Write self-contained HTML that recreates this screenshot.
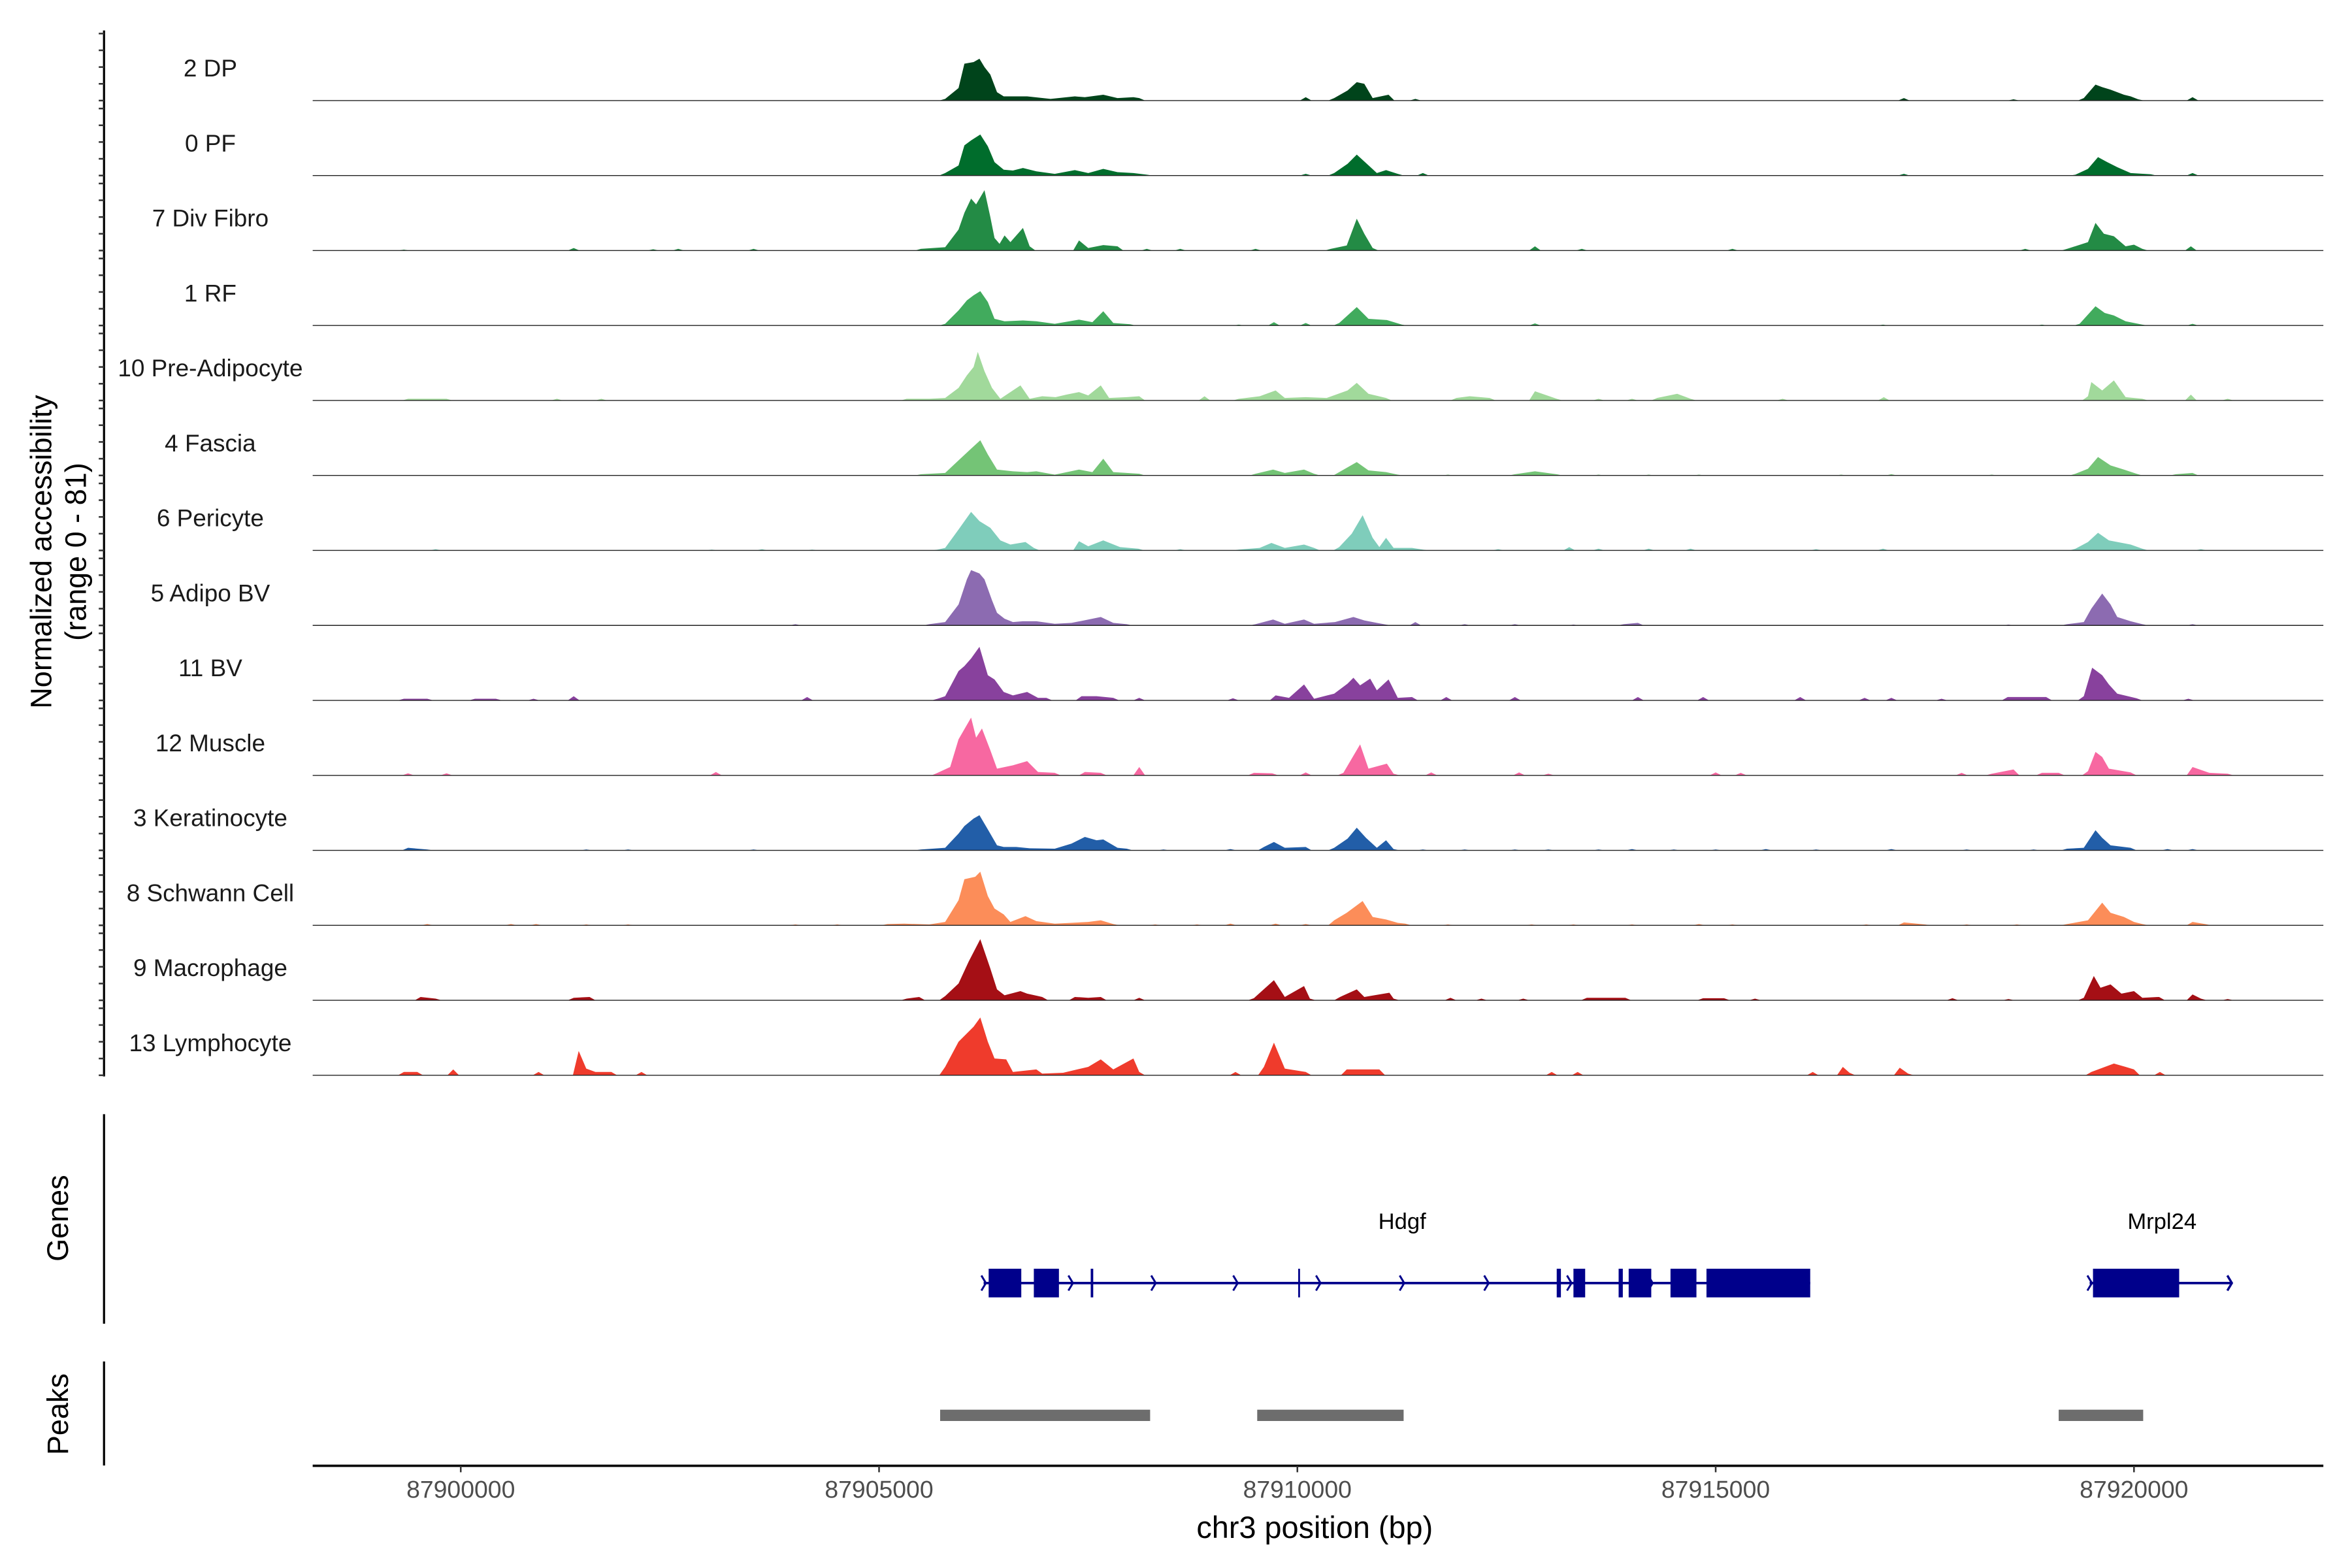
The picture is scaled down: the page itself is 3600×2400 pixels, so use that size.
<!DOCTYPE html>
<html><head><meta charset="utf-8">
<style>
html,body{margin:0;padding:0;background:#fff;}
svg{display:block;}
text{font-family:"Liberation Sans",Arial,sans-serif;}
</style></head>
<body>
<svg id="chart" xmlns="http://www.w3.org/2000/svg" width="3600" height="2400" viewBox="0 0 1560 1040">
<rect x="0" y="0" width="1560" height="1040" fill="#fff"/>
<g id="tracks"></g>
<g id="yaxis"></g>
<text transform="translate(34,366) rotate(-90)" text-anchor="middle" font-size="19.5" fill="#000">Normalized accessibility</text>
<text transform="translate(57,366) rotate(-90)" text-anchor="middle" font-size="19.5" fill="#000">(range 0 - 81)</text>
<g id="genes"></g>
<line x1="69" y1="739" x2="69" y2="878" stroke="#000" stroke-width="1.4"/>
<text transform="translate(45,808) rotate(-90)" text-anchor="middle" font-size="19.5" fill="#000">Genes</text>
<g id="peaks"></g>
<line x1="69" y1="903" x2="69" y2="972" stroke="#000" stroke-width="1.4"/>
<text transform="translate(45,938) rotate(-90)" text-anchor="middle" font-size="19.5" fill="#000">Peaks</text>
<g id="xaxis"></g>
<text x="872" y="1020" text-anchor="middle" font-size="20.3" fill="#000">chr3 position (bp)</text>
</svg>
<script>
// positions are kb offsets from 87,900,000 bp; values on the 0-81 normalized scale
const trackNames = ["2 DP","0 PF","7 Div Fibro","1 RF","10 Pre-Adipocyte","4 Fascia","6 Pericyte","5 Adipo BV","11 BV","12 Muscle","3 Keratinocyte","8 Schwann Cell","9 Macrophage","13 Lymphocyte"];
const trackColors = ["#00441b","#006d2c","#238b45","#41ab5d","#a1d99b","#74c476","#7fcdbb","#8c6bb1","#88419d","#f768a1","#225ea8","#fc8d59","#a50f15","#ef3b2c"];
const covDP2 = [[5.79,2],[5.95,15],[6.02,44],[6.13,46],[6.2,50],[6.26,40],[6.33,31],[6.41,10],[6.49,5],[6.6,5],[6.77,5],[7.05,2],[7.34,5],[7.46,4],[7.68,7],[7.85,3],[8.04,4],[8.11,3],[10.1,4],[10.44,3],[10.6,12],[10.71,22],[10.8,20],[10.9,3],[11.09,7],[11.41,2],[17.25,3],[18.56,1.5],[19.4,3],[19.54,19],[19.62,16],[19.72,13],[19.88,7],[19.96,5],[20.05,1.5],[20.7,4]];
const covPF0 = [[5.79,3],[5.95,12],[6.02,36],[6.1,42],[6.21,49],[6.3,35],[6.38,16],[6.49,7],[6.6,6],[6.72,9],[6.88,5],[7.1,2],[7.34,6.5],[7.5,3],[7.68,8],[7.85,4],[8.04,3],[8.2,1],[10.1,2],[10.44,3],[10.6,14],[10.71,25],[10.82,15],[10.95,3],[11.06,6.5],[11.2,2],[11.5,3],[17.25,2],[19.3,1],[19.45,8],[19.57,22],[19.68,16],[19.8,10],[19.96,3],[20.2,1.5],[20.7,3]];
const covFib7 = [[-0.68,1],[1.35,3],[2.3,1.5],[2.6,2],[3.5,2],[5.5,2],[5.79,4],[5.95,25],[6.02,45],[6.1,62],[6.16,55],[6.26,72],[6.33,40],[6.38,15],[6.44,8],[6.5,18],[6.57,10],[6.72,27],[6.8,5],[7.39,12],[7.5,3],[7.68,6.5],[7.85,5],[8.2,2],[8.6,2],[9.5,2],[10.4,2],[10.59,6],[10.71,38],[10.8,20],[10.9,3],[12.84,5],[13.4,2],[15.2,2],[18.7,2],[19.2,2],[19.45,10],[19.54,33],[19.64,20],[19.76,17],[19.9,5],[20.0,7],[20.1,2],[20.68,5]];
const covRF1 = [[5.79,2],[5.95,18],[6.05,30],[6.13,36],[6.21,41],[6.3,28],[6.38,8],[6.5,5],[6.72,6],[6.88,5],[7.1,2],[7.39,7],[7.55,4],[7.68,17],[7.8,3],[8.0,1.5],[9.3,1],[9.72,4],[10.1,3],[10.5,3],[10.71,22],[10.85,8],[11.07,6.5],[11.25,1],[12.84,2.5],[17.0,1],[18.9,1],[19.35,2],[19.54,23],[19.65,15],[19.76,12],[19.9,5],[20.1,1],[20.7,2]];
const covPre10 = [[-0.63,2],[-0.4,2],[-0.17,2],[1.15,2],[1.68,2],[5.33,2],[5.6,2],[5.79,3],[5.95,15],[6.05,30],[6.13,40],[6.18,58],[6.26,35],[6.35,15],[6.45,2],[6.69,18],[6.8,2],[6.95,5],[7.11,4],[7.24,7],[7.39,10],[7.5,6],[7.65,18],[7.75,3],[7.96,4],[8.11,5],[8.89,5],[9.3,2],[9.55,5],[9.74,12],[9.85,3],[10.1,4],[10.35,3],[10.6,12],[10.71,21],[10.85,8],[11.06,3],[11.9,3],[12.06,5],[12.3,3],[12.84,11],[13.1,2],[13.6,2],[14.0,2],[14.3,3],[14.54,8],[14.7,2],[15.8,2],[17.01,4],[19.45,5],[19.49,22],[19.62,12],[19.76,24],[19.9,4],[20.1,2],[20.68,7],[21.12,2]];
const covFascia4 = [[5.5,1.5],[5.79,3],[5.95,18],[6.1,32],[6.21,42],[6.3,25],[6.41,7],[6.6,5],[6.77,4],[6.88,5],[7.1,1],[7.39,7],[7.55,4],[7.68,20],[7.8,4],[7.96,3],[8.11,2],[9.5,2],[9.71,7],[9.85,3],[10.08,7],[10.2,2],[10.5,4],[10.71,16],[10.85,6],[11.06,4],[11.2,1],[11.8,1],[12.6,1.5],[12.84,5],[13.1,1.5],[13.6,1],[14.2,1],[14.8,1],[16.5,1],[17.1,1.5],[18.3,1],[19.3,2],[19.45,8],[19.57,22],[19.72,12],[19.88,7],[20.03,2],[20.5,1.5],[20.7,3]];
const covPeri6 = [[-0.3,1.5],[3.0,1],[3.6,1.5],[4.2,1],[5.7,1],[5.79,3],[5.95,25],[6.1,46],[6.2,35],[6.33,27],[6.45,12],[6.57,7],[6.75,10],[6.85,3],[7.39,11],[7.5,5],[7.68,12],[7.88,4],[8.1,2],[8.6,1.5],[9.3,1],[9.55,3],[9.69,9],[9.85,3],[10.08,7],[10.2,3],[10.5,4],[10.65,20],[10.78,42],[10.9,15],[10.98,4],[11.06,15],[11.15,3],[11.37,3],[11.5,1],[12.4,1.5],[13.25,4],[13.6,2],[14.2,2],[14.7,2],[16.2,1.5],[17.0,2],[19.3,2],[19.45,10],[19.57,21],[19.7,12],[19.96,7],[20.1,2],[20.8,1.5]];
const covAdipoBV5 = [[4.0,1.5],[5.6,1.5],[5.79,4],[5.95,25],[6.05,55],[6.1,66],[6.2,62],[6.26,55],[6.35,30],[6.41,15],[6.5,8],[6.6,4],[6.72,5],[6.88,5],[7.1,2],[7.3,3],[7.45,6],[7.65,10],[7.8,3],[7.96,1.5],[9.5,1.5],[9.71,7],[9.85,2],[10.08,7],[10.2,2],[10.45,4],[10.67,10],[10.8,6],[10.95,3],[11.06,1],[11.41,4],[12.0,1.5],[12.6,1.5],[13.3,1],[13.9,1.5],[14.07,3],[18.5,1],[19.2,1.5],[19.4,4],[19.49,20],[19.62,38],[19.72,25],[19.8,10],[19.96,5],[20.1,1.5],[20.7,1.5]];
const covBV11 = [[-0.68,2],[-0.4,2],[0.17,2],[0.42,2],[0.87,2],[1.35,5],[4.14,4],[5.7,2],[5.79,5],[5.95,35],[6.02,41],[6.1,50],[6.2,64],[6.3,30],[6.38,25],[6.49,10],[6.6,6],[6.77,10],[6.9,3],[7.0,3],[7.42,5],[7.6,5],[7.8,3],[8.11,3],[9.23,2.5],[9.74,6],[9.9,3],[10.08,19],[10.2,2],[10.44,8],[10.6,20],[10.67,27],[10.75,18],[10.87,26],[10.95,12],[11.09,25],[11.2,3],[11.37,4],[11.78,4],[12.6,4],[14.07,4],[14.85,4],[16.01,4],[16.78,3],[17.1,3],[17.7,2],[18.49,4],[18.7,4],[18.95,4],[19.4,5],[19.5,39],[19.62,30],[19.7,19],[19.8,8],[20.03,2.5],[20.65,2]];
const covMuscle12 = [[-0.63,2.5],[-0.17,2.5],[3.05,4],[5.7,3],[5.85,10],[5.95,43],[6.1,69],[6.16,45],[6.23,56],[6.33,30],[6.41,8],[6.6,12],[6.77,17],[6.9,4],[7.1,3],[7.46,4],[7.65,3],[8.11,10],[9.48,3],[9.7,2.5],[10.1,3.5],[10.55,3],[10.75,37],[10.85,8],[11.07,14],[11.15,2],[11.6,3.5],[12.65,3.5],[13.0,2],[15.0,3.5],[15.3,3],[17.94,3],[18.3,2],[18.56,7],[18.9,3],[19.1,3],[19.45,5],[19.54,28],[19.62,22],[19.7,8],[19.96,3.5],[20.7,10],[20.9,3],[21.12,2]];
const covKera3 = [[-0.63,3],[-0.4,1],[1.5,1],[2.0,1],[3.5,1],[5.5,1],[5.79,3],[5.95,20],[6.02,29],[6.13,38],[6.2,42],[6.3,25],[6.41,6],[6.49,4],[6.64,4],[6.8,2.5],[7.1,2],[7.3,8],[7.46,16],[7.6,12],[7.68,13],[7.85,3],[7.96,2],[8.4,1],[9.2,1.5],[9.6,4],[9.72,10],[9.85,3],[10.1,4],[10.44,3],[10.6,14],[10.71,27],[10.82,15],[10.95,3],[11.06,12],[11.15,1.5],[11.5,1],[12.0,1],[12.6,1],[13.0,1],[13.6,1],[14.0,1.5],[14.5,1],[15.0,1],[15.6,1.5],[16.2,1],[17.1,1.5],[18.0,1],[18.8,1],[19.2,2],[19.4,3],[19.54,24],[19.62,15],[19.72,6],[19.96,3],[20.4,1.5],[20.7,1.5]];
const covSchwann8 = [[-0.4,1.5],[0.6,1.5],[0.9,1.5],[1.5,1],[2.0,1],[4.0,1],[4.5,1],[5.1,1.5],[5.3,2],[5.6,1],[5.79,4],[5.95,30],[6.02,55],[6.15,58],[6.21,64],[6.3,35],[6.38,20],[6.49,13],[6.57,4],[6.75,11],[6.88,5],[7.1,2],[7.3,3],[7.5,4],[7.65,6],[7.8,1.5],[8.3,1],[8.8,1],[9.2,2],[9.74,2],[10.1,1.5],[10.44,6],[10.59,15],[10.78,29],[10.9,10],[11.06,7],[11.2,3],[11.29,2],[11.8,1],[12.8,1],[13.3,1],[14.0,1],[14.8,1.5],[15.2,1],[16.8,1],[17.25,3.5],[17.5,1],[18.0,1],[18.6,1],[19.2,1.5],[19.45,6],[19.62,27],[19.72,15],[19.88,10],[20.0,4],[20.1,1.5],[20.7,4],[20.85,1.5]];
const covMacro9 = [[-0.48,4],[-0.3,2],[1.35,3],[1.54,4],[5.33,2],[5.48,4],[5.79,5],[5.95,20],[6.07,46],[6.21,73],[6.33,38],[6.41,13],[6.5,6],[6.69,11],[6.77,8],[6.95,4],[7.34,4],[7.5,3],[7.65,4],[8.11,3],[9.48,2.5],[9.72,24],[9.85,4],[10.08,17],[10.15,2],[10.51,4],[10.71,13],[10.8,4],[11.1,9],[11.15,2],[11.83,3],[12.2,2],[12.7,2],[13.46,3],[13.7,3],[13.92,3],[14.85,2.5],[15.1,2.5],[15.47,2],[17.83,2.5],[18.5,1.5],[19.4,3],[19.52,29],[19.6,15],[19.72,19],[19.85,8],[20.0,11],[20.1,3],[20.3,4],[20.7,7],[20.8,2],[21.12,1.5]];
const covLympho13 = [[-0.68,4],[-0.52,4],[-0.09,7],[0.93,4],[1.41,29],[1.5,8],[1.61,4],[1.8,4],[2.16,4],[5.79,10],[5.95,40],[6.13,58],[6.21,69],[6.3,40],[6.38,20],[6.52,19],[6.6,4],[6.88,7],[6.95,2],[7.2,3],[7.5,10],[7.65,19],[7.8,7],[8.04,20],[8.11,4],[9.26,4],[9.6,10],[9.72,39],[9.85,8],[10.1,4],[10.59,7],[10.8,7],[10.98,7],[13.04,4],[13.35,4],[16.16,4],[16.52,10],[16.6,3],[17.2,9],[17.3,2],[19.49,4],[19.76,14],[19.9,10],[20.0,7],[20.31,4]];
const trackSeries = [covDP2,covPF0,covFib7,covRF1,covPre10,covFascia4,covPeri6,covAdipoBV5,covBV11,covMuscle12,covKera3,covSchwann8,covMacro9,covLympho13];
const yRangeMax = 81;
const yTickValues = [0,20,40,60,80];
const xTickKb = [0,5,10,15,20];
const xTickLabels = ["87900000","87905000","87910000","87915000","87920000"];
const hdgfSpan = [6.25,16.13];
const hdgfExons = [[6.31,6.70],[6.85,7.15],[7.53,7.56],[10.01,10.03],[13.10,13.15],[13.30,13.44],[13.84,13.89],[13.96,14.23],[14.46,14.77],[14.89,16.13]];
const hdgfChevrons = [6.25,7.29,8.28,9.26,10.25,11.25,12.26,13.25,14.22];
const mrplSpan = [19.47,21.17];
const mrplExons = [[19.51,20.54]];
const mrplChevrons = [19.47];
const peakRegions = [[5.73,8.24],[9.52,11.27],[19.10,20.11]];

const NS = "http://www.w3.org/2000/svg";
const X0 = 305.6, PXKB = 55.49;
const xScale = kb => X0 + kb * PXKB;
const BASE0 = 66.7, STEP = 49.73, PANEL_H = 45.0;
const baseY = i => BASE0 + i * STEP;
const yScale = (i, v) => baseY(i) - v / yRangeMax * PANEL_H;
const XL = 207.4, XR = 1541;
function mk(tag, attrs, parent){
  const e = document.createElementNS(NS, tag);
  for (const k in attrs) e.setAttribute(k, attrs[k]);
  parent.appendChild(e);
  return e;
}
const gT = document.getElementById('tracks');
trackSeries.forEach((series, i) => {
  const pts = series.slice().sort((a,b)=>a[0]-b[0]);
  const groups = [];
  let cur = [];
  pts.forEach(p => {
    if (cur.length && p[0] - cur[cur.length-1][0] > 0.3) { groups.push(cur); cur = []; }
    cur.push(p);
  });
  if (cur.length) groups.push(cur);
  let d = "";
  groups.forEach(g => {
    const b = baseY(i);
    d += "M" + xScale(g[0][0]-0.07).toFixed(2) + "," + b.toFixed(2);
    g.forEach(p => { d += "L" + xScale(p[0]).toFixed(2) + "," + yScale(i, p[1]).toFixed(2); });
    d += "L" + xScale(g[g.length-1][0]+0.07).toFixed(2) + "," + b.toFixed(2) + "Z";
  });
  const area = mk('path', {d: d, fill: trackColors[i], stroke: 'none'}, gT);
  
  
  const bl = mk('line', {x1: XL, x2: XR, y1: baseY(i), y2: baseY(i), stroke: '#222', 'stroke-width': 0.6}, gT);
  
  
  const lab = mk('text', {x: 139.5, y: baseY(i) - 16, 'text-anchor': 'middle', 'font-size': 16, fill: '#1a1a1a'}, gT);
  lab.textContent = trackNames[i];
  
  
});
const gY = document.getElementById('yaxis');
const yl = mk('line', {x1: 69, x2: 69, y1: baseY(0) - PANEL_H - 1.5, y2: baseY(13) + 0.8, stroke: '#000', 'stroke-width': 1.4}, gY);


for (let i = 0; i < trackNames.length; i++) {
  yTickValues.forEach(v => {
    const t = mk('line', {x1: 65.5, x2: 69, y1: yScale(i, v), y2: yScale(i, v), stroke: '#333', 'stroke-width': 1.1}, gY);
    
    
  });
}
const gG = document.getElementById('genes');
const GY = 851;
function drawGene(span, exons, chevrons, name, labelX){
  const ln = mk('line', {x1: xScale(span[0]), x2: xScale(span[1]), y1: GY, y2: GY, stroke: '#00008b', 'stroke-width': 1.6}, gG);
  
  
  exons.forEach(ex => {
    const w = Math.max(1.2, xScale(ex[1]) - xScale(ex[0]));
    const r = mk('rect', {x: xScale(ex[0]), y: GY - 9.5, width: w, height: 19, fill: '#00008b'}, gG);
    
    
  });
  chevrons.forEach(c => {
    const x = xScale(c);
    const p = mk('path', {d: `M${x-1.5},${GY-5} L${x+1.5},${GY} L${x-1.5},${GY+5}`, fill: 'none', stroke: '#00008b', 'stroke-width': 1.3}, gG);
    
    
  });
  const t = mk('text', {x: labelX, y: 815, 'text-anchor': 'middle', 'font-size': 15, fill: '#000'}, gG);
  t.textContent = name;
  
  
}
drawGene(hdgfSpan, hdgfExons, hdgfChevrons, 'Hdgf', 930);
drawGene(mrplSpan, mrplExons, mrplChevrons, 'Mrpl24', 1434);
{
  const xe = xScale(mrplSpan[1]);
  const ah = mk('path', {d: `M${xe-3},${GY-5} L${xe},${GY} L${xe-3},${GY+5}`, fill: 'none', stroke: '#00008b', 'stroke-width': 1.5}, gG);
  
  
}
const gP = document.getElementById('peaks');
peakRegions.forEach(pk => {
  const r = mk('rect', {x: xScale(pk[0]), y: 935, width: xScale(pk[1]) - xScale(pk[0]), height: 7.5, fill: '#6d6d6d'}, gP);
  
  
});
const gX = document.getElementById('xaxis');
const xl = mk('line', {x1: XL, x2: XR, y1: 972.2, y2: 972.2, stroke: '#000', 'stroke-width': 1.6}, gX);


xTickKb.forEach((kb, j) => {
  const t = mk('line', {x1: xScale(kb), x2: xScale(kb), y1: 972.2, y2: 976.5, stroke: '#333', 'stroke-width': 1.1}, gX);
  
  
  const l = mk('text', {x: xScale(kb), y: 993.5, 'text-anchor': 'middle', 'font-size': 16.2, fill: '#4d4d4d'}, gX);
  l.textContent = xTickLabels[j];
  
  
});
</script>
</body></html>
